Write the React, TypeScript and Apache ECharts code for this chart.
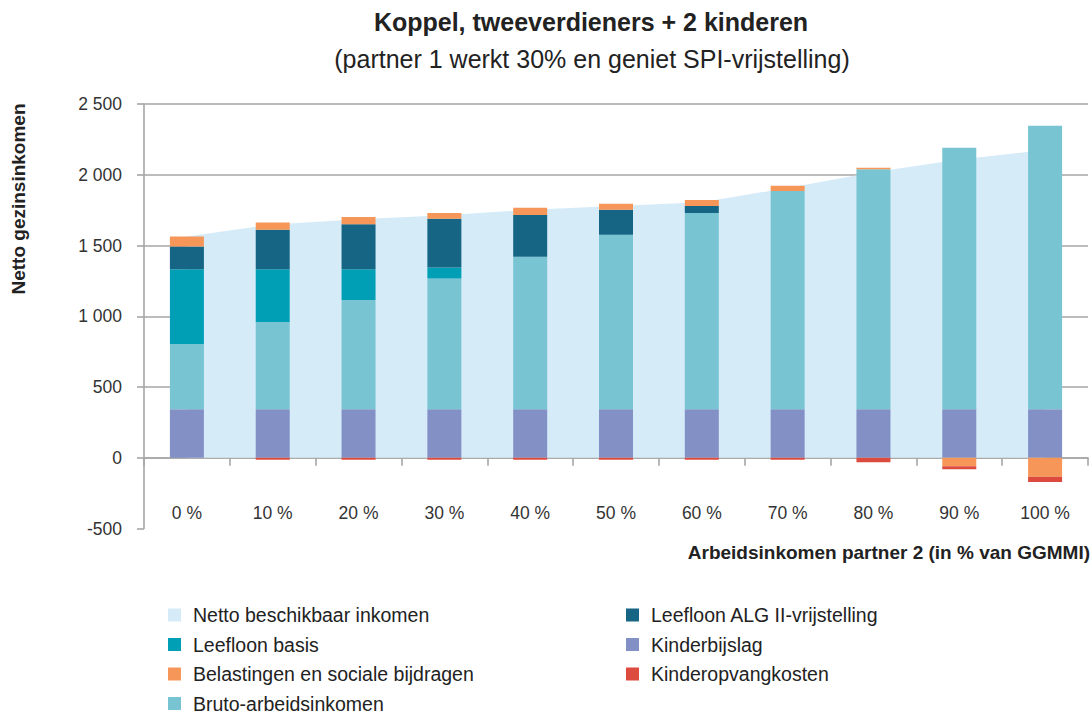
import React, { useEffect, useRef } from "react";
import * as echarts from "echarts";

const categories = ["0 %", "10 %", "20 %", "30 %", "40 %", "50 %", "60 %", "70 %", "80 %", "90 %", "100 %"];
const netto = [1564, 1648, 1686, 1714, 1752, 1780, 1806, 1907, 2018, 2108, 2175];
const kinderbijslag = [342, 342, 342, 342, 342, 342, 342, 342, 342, 342, 342];
const bruto = [462, 618, 772, 925, 1078, 1234, 1387, 1543, 1696, 1848, 2005];
const leefloonBasis = [529, 373, 219, 77, 0, 0, 0, 0, 0, 0, 0];
const leefloonAlg = [160, 278, 318, 345, 295, 176, 50, 0, 0, 0, 0];
const belastingen = [71, 52, 50, 40, 52, 43, 42, 37, 12, -60, -134];
const kinderopvang = [0, -15, -15, -15, -15, -15, -15, -15, -32, -22, -38];
const yTicks = [-500, 0, 500, 1000, 1500, 2000, 2500];

const FONT = "'Liberation Sans', Arial, Helvetica, sans-serif";
const GRAY = "#a6a6a6";

export default function App() {
  const ref = useRef<HTMLDivElement>(null);
  useEffect(() => {
    if (!ref.current) return;
    const chart = echarts.init(ref.current, null, { renderer: "svg" });
    const barBase = { type: "bar", stack: "total", barWidth: 34, z: 3 };
    const legendBase = {
      orient: "vertical",
      top: 605,
      height: 140,
      padding: 0,
      icon: "rect",
      itemWidth: 13,
      itemHeight: 13,
      itemGap: 9.5,
      textStyle: { fontFamily: FONT, fontSize: 19.5, color: "#222", padding: [0, 0, 0, 7] },
    };
    chart.setOption({
      animation: false,
      textStyle: { fontFamily: FONT },
      title: [
        {
          text: "Koppel, tweeverdieners + 2 kinderen",
          left: 591,
          top: 8,
          padding: 0,
          textAlign: "center",
          textStyle: { fontFamily: FONT, fontSize: 25, fontWeight: "bold", color: "#222", lineHeight: 28 },
        },
        {
          text: "(partner 1 werkt 30% en geniet SPI-vrijstelling)",
          left: 592,
          top: 45,
          padding: 0,
          textAlign: "center",
          textStyle: { fontFamily: FONT, fontSize: 25, fontWeight: "normal", color: "#222", lineHeight: 28 },
        },
      ],
      grid: { left: 144, right: 4, top: 104, bottom: 184.5, containLabel: false },
      legend: [
        {
          ...legendBase,
          left: 168,
          data: ["Netto beschikbaar inkomen", "Leefloon basis", "Belastingen en sociale bijdragen", "Bruto-arbeidsinkomen"],
        },
        {
          ...legendBase,
          left: 626,
          data: ["Leefloon ALG II-vrijstelling", "Kinderbijslag", "Kinderopvangkosten"],
        },
      ],
      xAxis: {
        type: "category",
        data: categories,
        boundaryGap: true,
        axisLine: { onZero: true, lineStyle: { color: GRAY, width: 1.6 } },
        axisTick: { show: true, length: 8, lineStyle: { color: GRAY, width: 1.6 } },
        axisLabel: { margin: -25, fontFamily: FONT, fontSize: 17.5, color: "#333" },
      },
      yAxis: {
        type: "value",
        min: yTicks[0],
        max: yTicks[yTicks.length - 1],
        interval: 500,
        axisLine: { show: true, lineStyle: { color: GRAY, width: 1.6 } },
        axisTick: { show: true, length: 7, lineStyle: { color: GRAY, width: 1.6 } },
        splitLine: { show: true, showMinLine: false, lineStyle: { color: GRAY, width: 1.6 } },
        axisLabel: {
          margin: 22,
          fontFamily: FONT,
          fontSize: 17.5,
          color: "#333",
          formatter: (v: number) => {
            const s = String(Math.abs(v));
            const t = s.length > 3 ? s.slice(0, s.length - 3) + " " + s.slice(s.length - 3) : s;
            return (v < 0 ? "-" : "") + t;
          },
        },
      },
      graphic: [
        {
          type: "text",
          x: 1090,
          y: 552,
          style: {
            text: "Arbeidsinkomen partner 2 (in % van GGMMI)",
            font: `bold 19px ${FONT}`,
            fill: "#222",
            textAlign: "right",
            textVerticalAlign: "middle",
          },
        },
        {
          type: "text",
          x: 18,
          y: 199,
          rotation: Math.PI / 2,
          style: {
            text: "Netto gezinsinkomen",
            font: `bold 19px ${FONT}`,
            fill: "#222",
            textAlign: "center",
            textVerticalAlign: "middle",
          },
        },
      ],
      series: [
        {
          name: "Netto beschikbaar inkomen",
          type: "line",
          data: netto,
          symbol: "none",
          z: 1,
          lineStyle: { width: 0, color: "#d5ebf8" },
          itemStyle: { color: "#d5ebf8" },
          areaStyle: { color: "#d5ebf8", opacity: 1 },
        },
        { ...barBase, name: "Kinderbijslag", data: kinderbijslag, itemStyle: { color: "#8390c6" } },
        { ...barBase, name: "Bruto-arbeidsinkomen", data: bruto, itemStyle: { color: "#78c4d2" } },
        { ...barBase, name: "Leefloon basis", data: leefloonBasis, itemStyle: { color: "#009fb5" } },
        { ...barBase, name: "Leefloon ALG II-vrijstelling", data: leefloonAlg, itemStyle: { color: "#176584" } },
        { ...barBase, name: "Belastingen en sociale bijdragen", data: belastingen, itemStyle: { color: "#f79659" } },
        { ...barBase, name: "Kinderopvangkosten", data: kinderopvang, itemStyle: { color: "#dc4b3e" } },
      ],
    });
    return () => chart.dispose();
  }, []);
  return (
    <div
      ref={ref}
      style={{ position: "fixed", left: 0, top: 0, width: 1092, height: 713, background: "#fff" }}
    />
  );
}
